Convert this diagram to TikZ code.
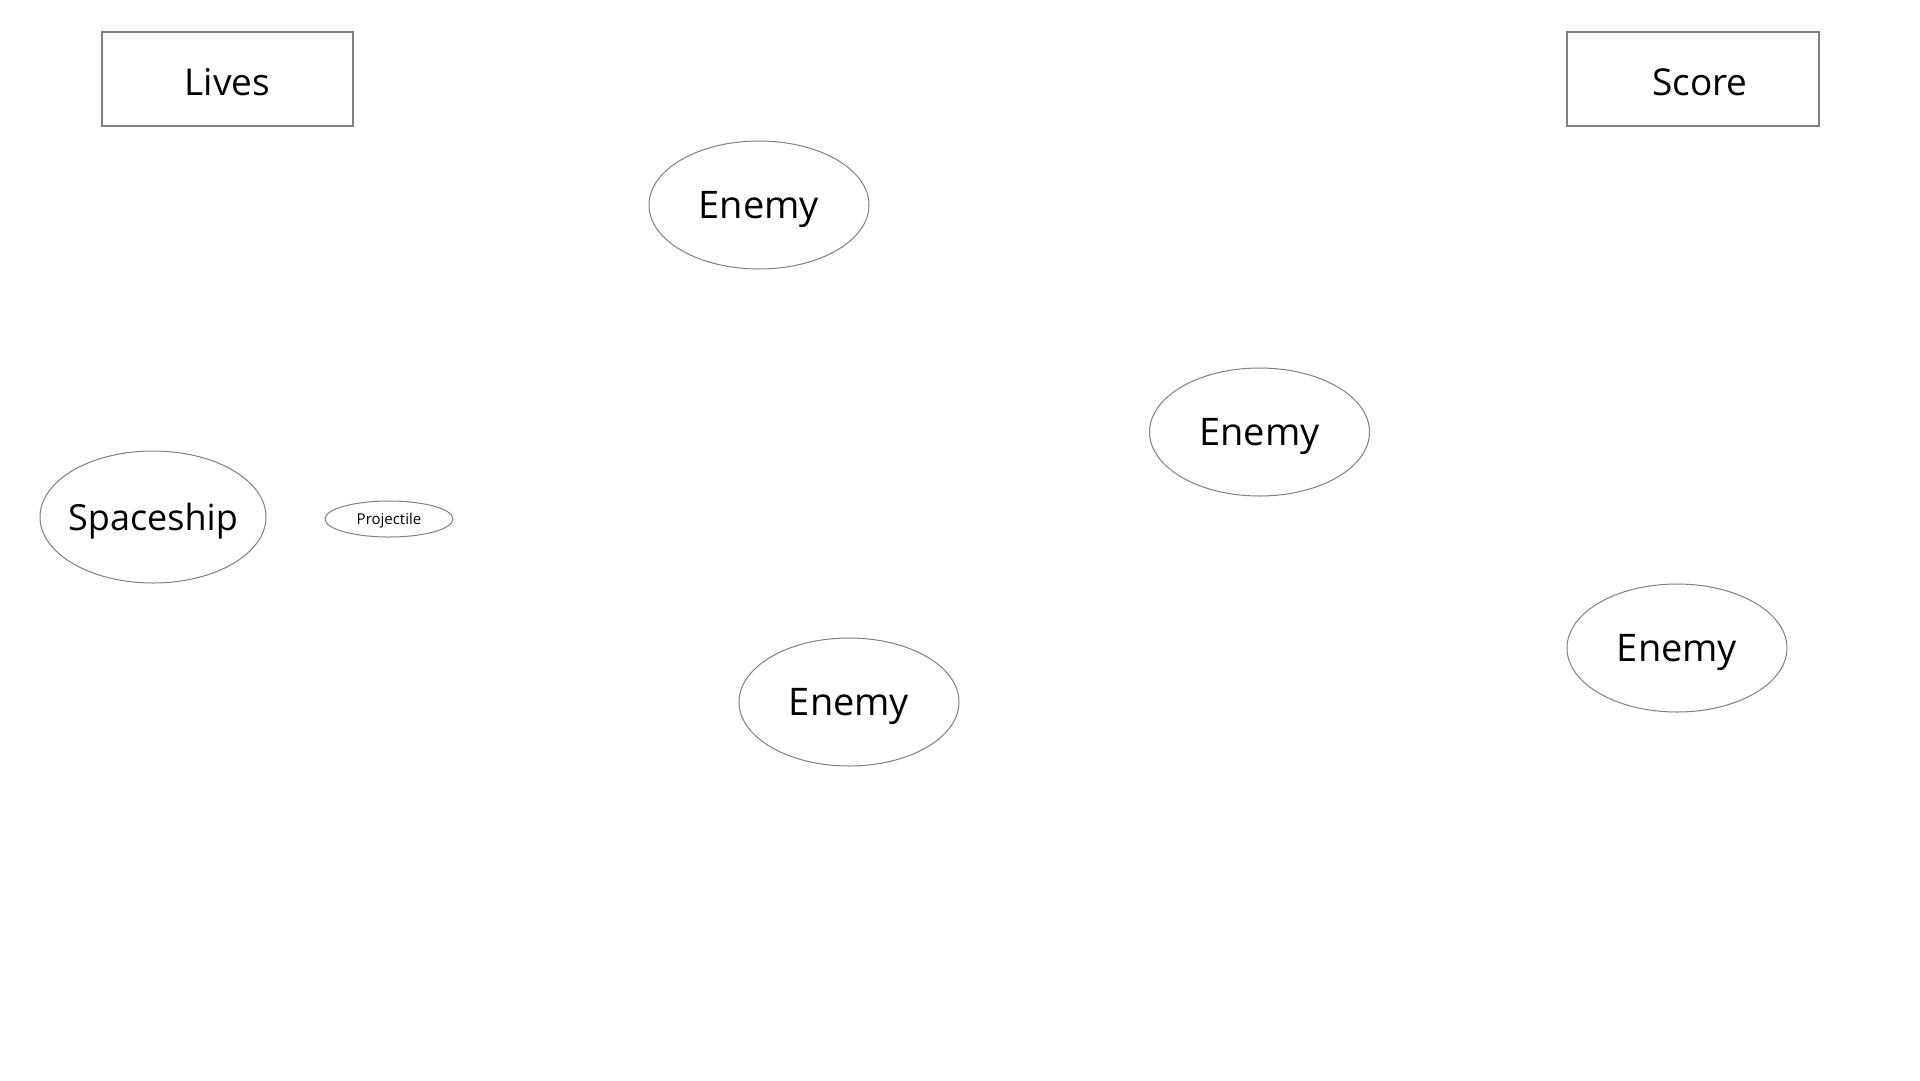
\documentclass[tikz,border=0pt]{standalone}
\usepackage{fontspec}
\setmainfont{Open Sans}
\usetikzlibrary{shapes.geometric}
\definecolor{edge}{HTML}{808080}
\tikzset{
  x=1pt, y=-1pt,
  hudbox/.style={draw=edge, line width=1.2pt, rectangle, inner sep=-40pt, text height=32pt, text depth=0pt, font=\fontsize{37}{40}\selectfont},
  actor/.style={draw=edge, line width=1pt, ellipse, inner sep=-40pt, text depth=0pt, font=\fontsize{38}{40}\selectfont},
  shot/.style={draw=edge, line width=1pt, ellipse, inner sep=-20pt, text depth=0pt, font=\fontsize{15}{16}\selectfont}
}
\begin{document}
\begin{tikzpicture}
\useasboundingbox[fill=white] (0,0) rectangle (1920,1080);
\node[hudbox, minimum width=251pt, minimum height=94pt] (lives) at (227.5,79) {Lives};
\node[hudbox, minimum width=252pt, minimum height=94pt] (score) at (1693,79) {\hspace*{14pt}Score};
\node[actor, minimum width=226pt, minimum height=132pt] (ship) at (153,517) {\fontsize{36}{40}\selectfont Spaceship};
\node[shot, minimum width=128pt, minimum height=36pt] (proj) at (389,519) {Projectile};
\node[actor, minimum width=220pt, minimum height=128pt] (e1) at (759,205) {Enemy};
\node[actor, minimum width=220pt, minimum height=128pt] (e2) at (1259.5,432) {Enemy};
\node[actor, minimum width=220pt, minimum height=128pt] (e3) at (849,702) {Enemy};
\node[actor, minimum width=220pt, minimum height=128pt] (e4) at (1677,648) {Enemy};
\end{tikzpicture}
\end{document}
